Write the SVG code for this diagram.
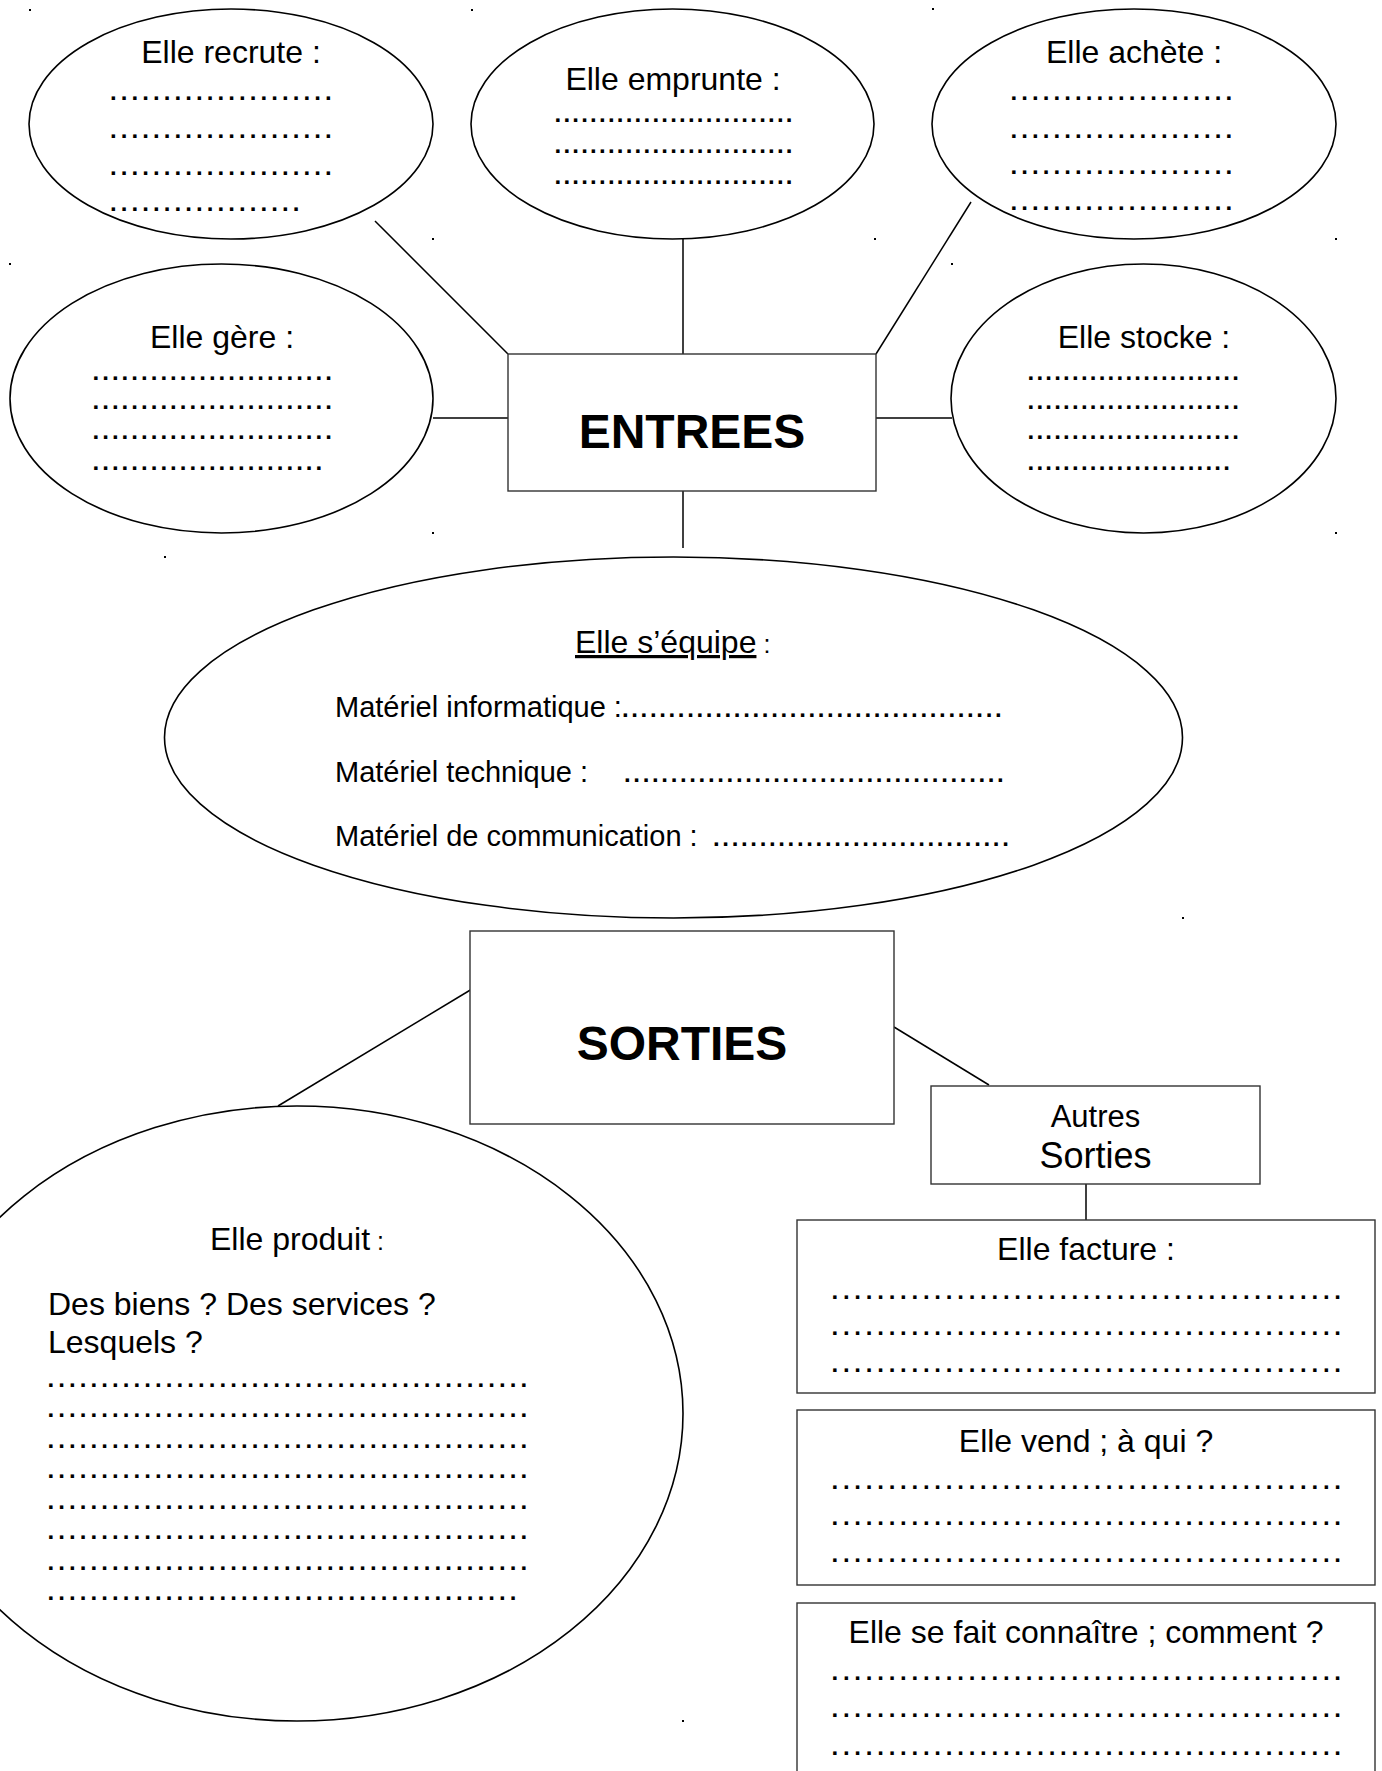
<svg xmlns="http://www.w3.org/2000/svg" width="1382" height="1771" viewBox="0 0 1382 1771">
<style>
text{font-family:"Liberation Sans",Arial,sans-serif;fill:#000}
.t{font-size:32px}
.c{text-anchor:middle}
.big{font-size:48px;font-weight:bold;text-anchor:middle}
.m{font-size:29px}
.sh{fill:#fff;stroke:#000;stroke-width:1.6}
.bx{fill:#fff;stroke:#333;stroke-width:1.4}
.ln{stroke:#000;stroke-width:1.5;fill:none}
.d{font-size:24px;font-weight:bold}
.dA{letter-spacing:4.08px}
.dB{letter-spacing:2.23px}
.dC{letter-spacing:3.03px}
.dE{letter-spacing:4.76px}
.dM{font-size:24px;font-weight:bold;letter-spacing:2.66px}
.u{text-decoration:underline}
.sc{font-size:25px}
</style>
<rect width="1382" height="1771" fill="#fff"/>
<g id="connectors">
<line class="ln" x1="375" y1="221" x2="508" y2="354"/>
<line class="ln" x1="683" y1="239" x2="683" y2="354"/>
<line class="ln" x1="971" y1="202" x2="876" y2="354"/>
<line class="ln" x1="433" y1="418" x2="508" y2="418"/>
<line class="ln" x1="876" y1="418" x2="952" y2="418"/>
<line class="ln" x1="683" y1="491" x2="683" y2="548"/>
<line class="ln" x1="472" y1="989" x2="278" y2="1106"/>
<line class="ln" x1="894" y1="1027" x2="989" y2="1085"/>
<line class="ln" x1="1086" y1="1184" x2="1086" y2="1220"/>
</g>
<g id="recrute">
<ellipse class="sh" cx="231" cy="124" rx="202" ry="115"/>
<text class="t c" x="231" y="63">Elle recrute :</text>
<text class="d dA" x="110" y="100">.....................</text>
<text class="d dA" x="110" y="138">.....................</text>
<text class="d dA" x="110" y="175">.....................</text>
<text class="d dA" x="110" y="211">..................</text>
</g>
<g id="emprunte">
<ellipse class="sh" cx="672.5" cy="124" rx="201.5" ry="115"/>
<text class="t c" x="673" y="90">Elle emprunte :</text>
<text class="d dB" x="554.5" y="122">...........................</text>
<text class="d dB" x="554.5" y="153">...........................</text>
<text class="d dB" x="554.5" y="184">...........................</text>
</g>
<g id="achete">
<ellipse class="sh" cx="1134" cy="124" rx="202" ry="115"/>
<text class="t c" x="1134" y="63">Elle achète :</text>
<text class="d dA" x="1010.5" y="100">.....................</text>
<text class="d dA" x="1010.5" y="138">.....................</text>
<text class="d dA" x="1010.5" y="174">.....................</text>
<text class="d dA" x="1010.5" y="210">.....................</text>
</g>
<g id="gere">
<ellipse class="sh" cx="221.5" cy="398.5" rx="211.5" ry="134.5"/>
<text class="t c" x="222" y="348">Elle gère :</text>
<text class="d dC" x="92.5" y="380">.........................</text>
<text class="d dC" x="92.5" y="409">.........................</text>
<text class="d dC" x="92.5" y="439">.........................</text>
<text class="d dC" x="92.5" y="470">........................</text>
</g>
<g id="stocke">
<ellipse class="sh" cx="1143.5" cy="398.5" rx="192.5" ry="134.5"/>
<text class="t c" x="1144" y="348">Elle stocke :</text>
<text class="d dB" x="1027.5" y="380">........................</text>
<text class="d dB" x="1027.5" y="409">........................</text>
<text class="d dB" x="1027.5" y="439">........................</text>
<text class="d dB" x="1027.5" y="470">.......................</text>
</g>
<g id="entrees">
<rect class="bx" x="508" y="354" width="368" height="137"/>
<text class="big" x="692" y="448">ENTREES</text>
</g>
<g id="equipe">
<ellipse class="sh" cx="673.5" cy="737.5" rx="509" ry="180.5"/>
<text class="t" x="575" y="653"><tspan class="u">Elle s’équipe</tspan><tspan class="sc"> :</tspan></text>
<text class="m" x="335" y="717">Matériel informatique :<tspan class="dM">.........................................</tspan></text>
<text class="m" x="335" y="782">Matériel technique :<tspan class="dM" x="624">.........................................</tspan></text>
<text class="m" x="335" y="846">Matériel de communication :<tspan class="dM" x="713">................................</tspan></text>
</g>
<g id="sorties">
<rect class="bx" x="470" y="931" width="424" height="193"/>
<text class="big" x="682" y="1060">SORTIES</text>
</g>
<g id="produit">
<ellipse class="sh" cx="297" cy="1413.5" rx="386" ry="307.5"/>
<text class="t c" x="297" y="1250">Elle produit<tspan class="sc"> :</tspan></text>
<text class="t" x="48" y="1315">Des biens ? Des services ?</text>
<text class="t" x="48" y="1353">Lesquels ?</text>
<text class="d dA" x="47.5" y="1387">.............................................</text>
<text class="d dA" x="47.5" y="1417">.............................................</text>
<text class="d dA" x="47.5" y="1448">.............................................</text>
<text class="d dA" x="47.5" y="1478">.............................................</text>
<text class="d dA" x="47.5" y="1509">.............................................</text>
<text class="d dA" x="47.5" y="1539">.............................................</text>
<text class="d dA" x="47.5" y="1570">.............................................</text>
<text class="d dA" x="47.5" y="1600">............................................</text>
</g>
<g id="autres">
<rect class="bx" x="931" y="1086" width="329" height="98"/>
<text class="c" x="1095.5" y="1127" style="font-size:31px">Autres</text>
<text class="c" x="1095.5" y="1168" style="font-size:36px">Sorties</text>
</g>
<g id="facture">
<rect class="bx" x="797" y="1220" width="578" height="173"/>
<text class="t c" x="1086" y="1260">Elle facture :</text>
<text class="d dE" x="831.5" y="1299">.............................................</text>
<text class="d dE" x="831.5" y="1335">.............................................</text>
<text class="d dE" x="831.5" y="1372">.............................................</text>
</g>
<g id="vend">
<rect class="bx" x="797" y="1410" width="578" height="175"/>
<text class="t c" x="1086" y="1452">Elle vend ; à qui ?</text>
<text class="d dE" x="831.5" y="1489">.............................................</text>
<text class="d dE" x="831.5" y="1525">.............................................</text>
<text class="d dE" x="831.5" y="1562">.............................................</text>
</g>
<g id="connaitre">
<rect class="bx" x="797" y="1603" width="578" height="190"/>
<text class="t c" x="1086" y="1643">Elle se fait connaître ; comment ?</text>
<text class="d dE" x="831.5" y="1680">.............................................</text>
<text class="d dE" x="831.5" y="1717">.............................................</text>
<text class="d dE" x="831.5" y="1755">.............................................</text>
</g>
<g id="marks" fill="#000">
<rect x="29" y="9" width="2" height="2"/>
<rect x="471" y="9" width="2" height="2"/>
<rect x="932" y="8" width="2" height="2"/>
<rect x="9" y="263" width="2" height="2"/>
<rect x="432" y="238" width="2" height="2"/>
<rect x="874" y="238" width="2" height="2"/>
<rect x="951" y="263" width="2" height="2"/>
<rect x="1335" y="238" width="2" height="2"/>
<rect x="432" y="532" width="2" height="2"/>
<rect x="164" y="556" width="2" height="2"/>
<rect x="1335" y="532" width="2" height="2"/>
<rect x="1182" y="917" width="2" height="2"/>
<rect x="682" y="1720" width="2" height="2"/>
</g>
</svg>
